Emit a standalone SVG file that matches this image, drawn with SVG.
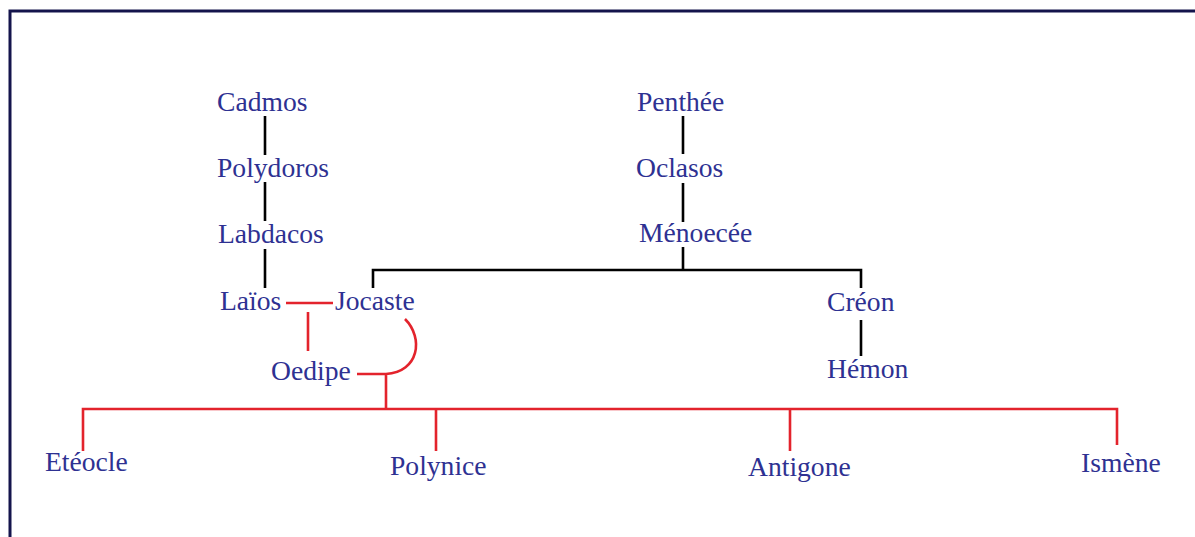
<svg xmlns="http://www.w3.org/2000/svg" width="1195" height="537" viewBox="0 0 1195 537">
<style>
.t{font-family:"Liberation Serif","Times New Roman",serif;font-size:27.6px;fill:#2e3192}
.k{stroke:#000;stroke-width:2.6;fill:none}
.r{stroke:#e3232c;stroke-width:2.6;fill:none}
</style>
<rect width="1195" height="537" fill="#fff"/>
<rect x="10" y="11" width="1200" height="600" fill="none" stroke="#14144c" stroke-width="3"/>
<g id="connectors">
<path class="k" d="M265,116V155M265,182V221M265,249V288"/>
<path class="k" d="M683,116V154M683,183V222M683,247V270M373,288V270H861V288M861,320V356"/>
<path class="r" d="M286,303H333M308,312V351M357,374H386V408M405,319C424,338 419,372 386,374"/>
<path class="r" d="M83,451V409H1117V445M436,409V451M790,409V451"/>
</g>
<g id="cadmos"><text class="t" x="217" y="111">Cadmos</text></g>
<g id="polydoros"><text class="t" x="217" y="177">Polydoros</text></g>
<g id="labdacos"><text class="t" x="218" y="243">Labdacos</text></g>
<g id="laios"><text class="t" x="220" y="310">Laïos</text></g>
<g id="jocaste"><text class="t" x="335" y="310">Jocaste</text></g>
<g id="oedipe"><text class="t" x="271" y="380">Oedipe</text></g>
<g id="penthee"><text class="t" x="637" y="111">Penthée</text></g>
<g id="oclasos"><text class="t" x="636" y="177">Oclasos</text></g>
<g id="menoecee"><text class="t" x="639" y="242">Ménoecée</text></g>
<g id="creon"><text class="t" x="827" y="311">Créon</text></g>
<g id="hemon"><text class="t" x="827" y="378">Hémon</text></g>
<g id="eteocle"><text class="t" x="45" y="471">Etéocle</text></g>
<g id="polynice"><text class="t" x="390" y="475">Polynice</text></g>
<g id="antigone"><text class="t" x="748" y="476">Antigone</text></g>
<g id="ismene"><text class="t" x="1081" y="472">Ismène</text></g>
</svg>
